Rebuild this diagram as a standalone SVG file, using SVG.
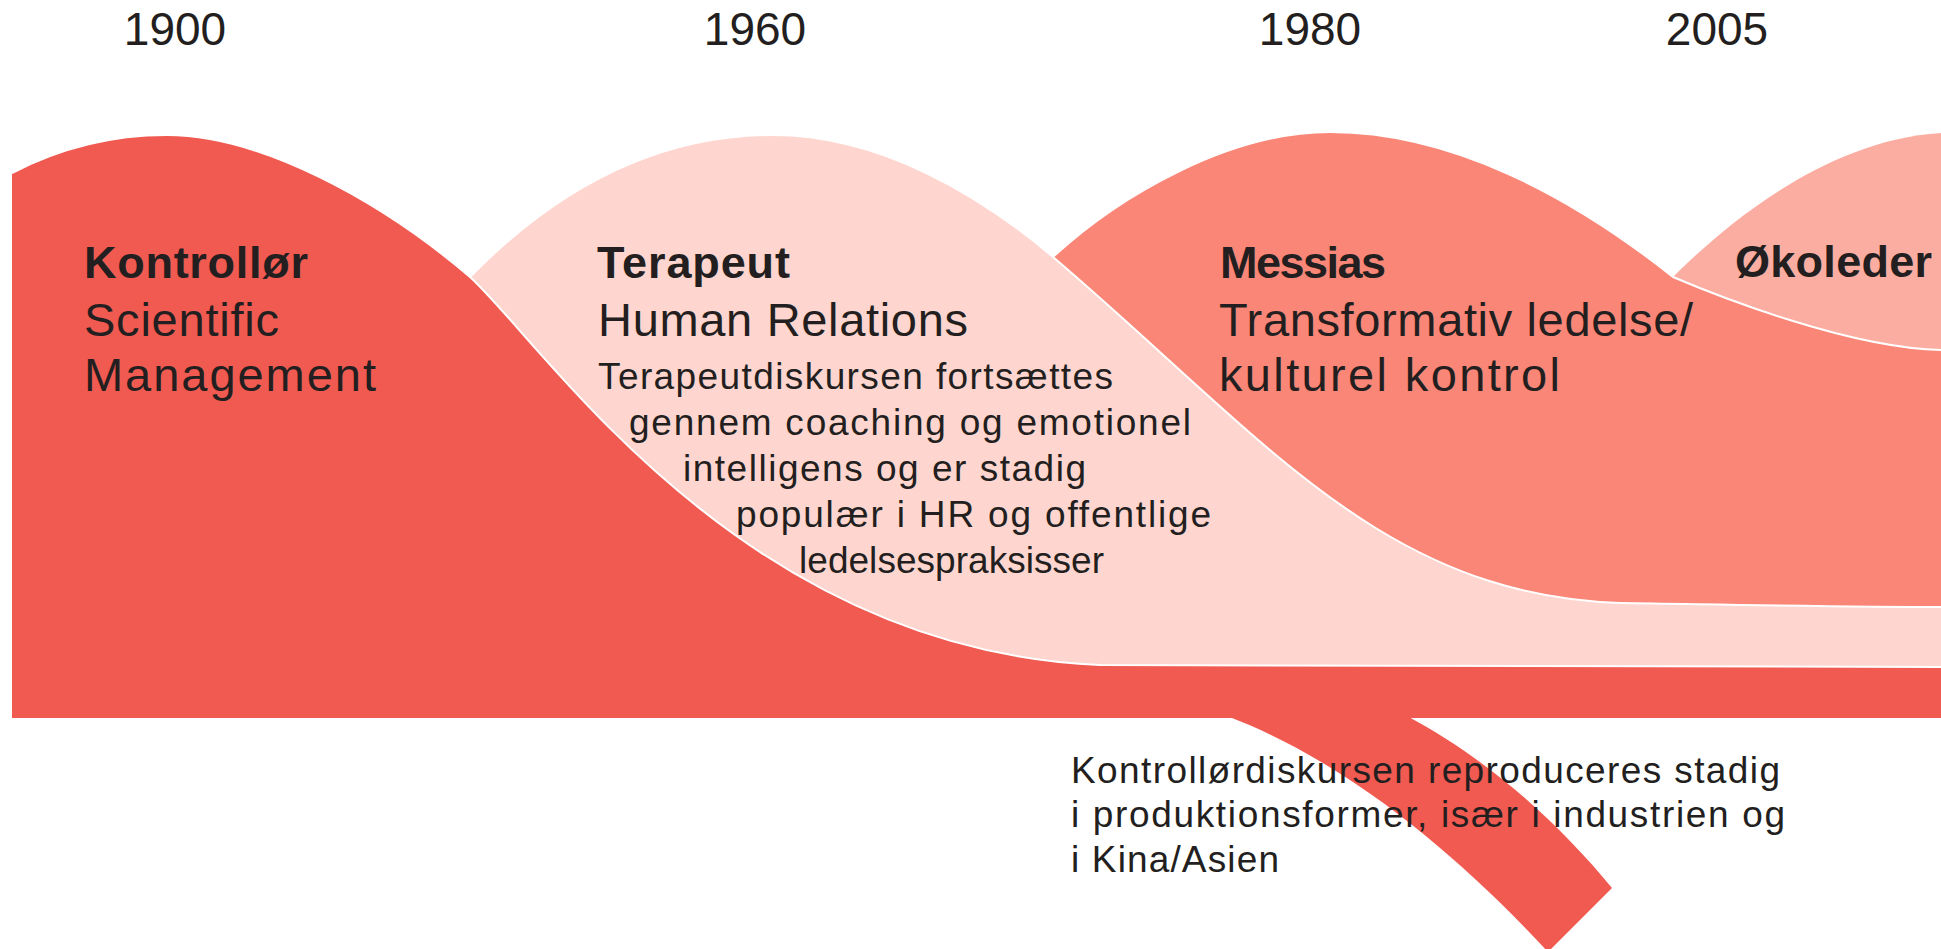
<svg xmlns="http://www.w3.org/2000/svg" width="1941" height="949" viewBox="0 0 1941 949">
  <style>
    text { font-family: "Liberation Sans", Arial, sans-serif; fill: #231F20; }
    .year { font-size: 46px; text-anchor: middle; }
    .head { font-size: 45px; font-weight: bold; }
    .sub { font-size: 47px; }
    .note { font-size: 37px; }
    .edge { fill: none; stroke: #FFFFFF; stroke-width: 2; }
    .red { fill: #F05A50; }
    .pink { fill: #FED6CF; }
    .salmon { fill: #FA8677; }
    .light { fill: #FCADA1; }
  </style>

  <rect width="1941" height="949" fill="#FFFFFF"/>

  <!-- timeline years -->
  <g id="timeline">
    <text class="year" x="175" y="45">1900</text>
    <text class="year" x="755" y="45">1960</text>
    <text class="year" x="1310" y="45">1980</text>
    <text class="year" x="1717" y="45">2005</text>
  </g>

  <!-- eco leader wave (back layer) -->
  <g id="era-okoleder">
    <path class="light" d="M1640,318 L1673,277 C1715,235 1820,140 1941,133 L1941,718 L1640,718 Z"/>
    <text class="head" x="1735" y="277" textLength="197" lengthAdjust="spacing">Økoleder</text>
  </g>

  <!-- messiah wave -->
  <g id="era-messias">
    <path class="salmon" d="M1000,300 L1053,257 C1120,195 1230,132 1330,132 C1450,132 1570,195 1673,277 C1720,297 1850,348 1941,350 L1941,718 L1000,718 Z"/>
    <path class="edge" d="M1053,257 C1120,195 1230,132 1330,132 C1450,132 1570,195 1673,277 C1720,297 1850,348 1941,350"/>
    <text class="head" x="1220" y="278" textLength="166" lengthAdjust="spacing">Messias</text>
    <text class="sub" x="1219" y="336" textLength="474" lengthAdjust="spacing">Transformativ ledelse/</text>
    <text class="sub" x="1219" y="391" textLength="341" lengthAdjust="spacing">kulturel kontrol</text>
  </g>

  <!-- therapist wave -->
  <g id="era-terapeut">
    <path class="pink" d="M430,318 L470,277 C560,185 660,135 773,135 C880,135 980,195 1053,257 C1260,433 1380,595 1620,603 C1750,605 1850,607 1941,607 L1941,718 L430,718 Z"/>
    <path class="edge" d="M470,277 C560,185 660,135 773,135 C880,135 980,195 1053,257 C1260,433 1380,595 1620,603 C1750,605 1850,607 1941,607"/>
    <text class="head" x="597" y="278" textLength="193" lengthAdjust="spacing">Terapeut</text>
    <text class="sub" x="598" y="336" textLength="370" lengthAdjust="spacing">Human Relations</text>
    <text class="note" x="598" y="389" textLength="515" lengthAdjust="spacing">Terapeutdiskursen fortsættes</text>
    <text class="note" x="629" y="435" textLength="562" lengthAdjust="spacing">gennem coaching og emotionel</text>
    <text class="note" x="683" y="481" textLength="403" lengthAdjust="spacing">intelligens og er stadig</text>
    <text class="note" x="736" y="527" textLength="475" lengthAdjust="spacing">populær i HR og offentlige</text>
    <text class="note" x="799" y="573" textLength="305" lengthAdjust="spacing">ledelsespraksisser</text>
  </g>

  <!-- controller wave (front layer) with its branch -->
  <g id="era-kontrollor">
    <path class="red" d="M12,173 C60,148 110,135 167,135 C260,135 380,200 470,277 C545,345 740,650 1100,665 L1941,667 L1941,718 L12,718 Z"/>
    <path class="edge" d="M12,173 C60,148 110,135 167,135 C260,135 380,200 470,277 C545,345 740,650 1100,665 L1941,667"/>
    <path class="red" d="M1227,716 C1330,755 1440,835 1548,952 L1612,888 C1560,825 1490,760 1407,716 Z"/>
    <text class="head" x="84" y="278" textLength="224" lengthAdjust="spacing">Kontrollør</text>
    <text class="sub" x="84" y="336" textLength="195" lengthAdjust="spacing">Scientific</text>
    <text class="sub" x="84" y="391" textLength="292" lengthAdjust="spacing">Management</text>
    <text class="note" x="1071" y="783" textLength="709" lengthAdjust="spacing">Kontrollørdiskursen reproduceres stadig</text>
    <text class="note" x="1071" y="827" textLength="714" lengthAdjust="spacing">i produktionsformer, især i industrien og</text>
    <text class="note" x="1071" y="872" textLength="208" lengthAdjust="spacing">i Kina/Asien</text>
  </g>
</svg>
